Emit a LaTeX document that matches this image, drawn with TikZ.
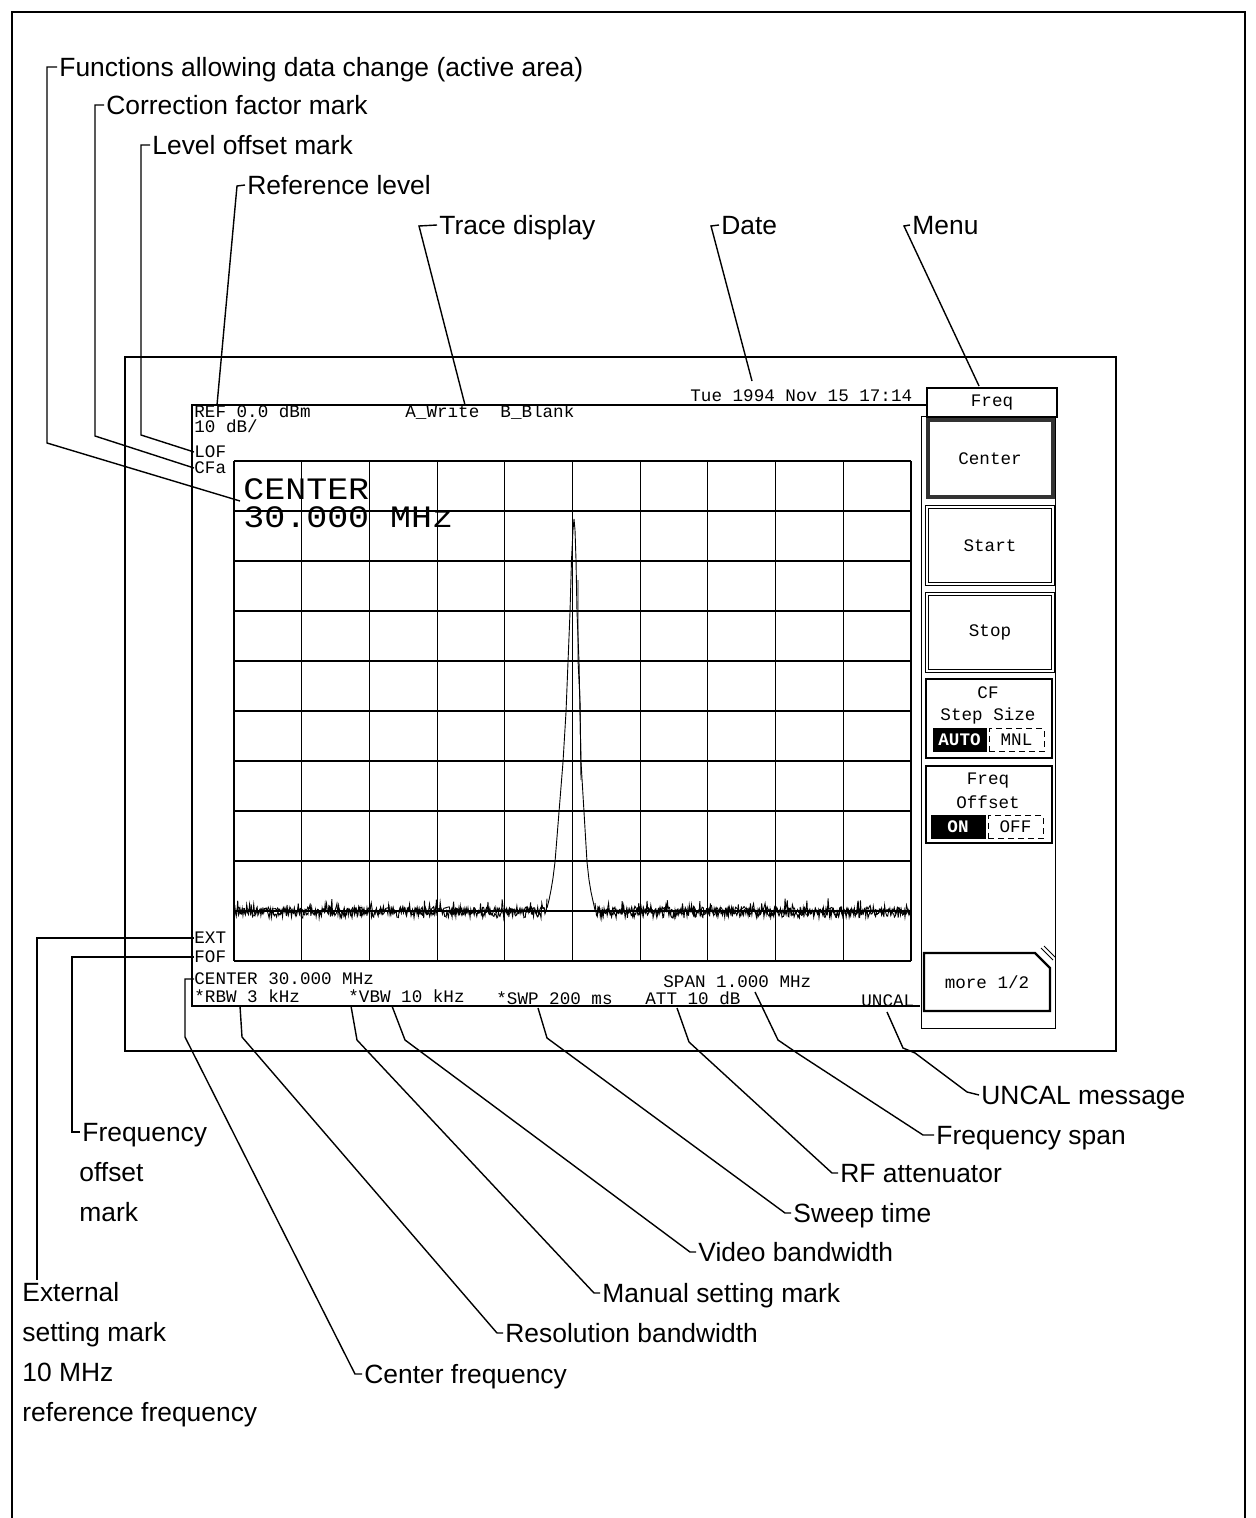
\documentclass[tikz,border=0pt]{standalone}
\usepackage{fontspec}
\setmainfont{Liberation Sans}
\newfontfamily\scrfont{Liberation Mono}
\newfontfamily\bigscrfont[FakeStretch=1.12]{Liberation Mono}
\begin{document}
\begin{tikzpicture}[x=0.5pt,y=-0.5pt,
  lbl/.style={font=\fontsize{13.2}{16}\selectfont,anchor=west,inner xsep=1pt,inner ysep=0pt,text height=9.5pt,text depth=0pt},
  scr/.style={font=\scrfont\fontsize{8.8}{10}\selectfont,anchor=west,inner sep=0pt,text height=5.2pt,text depth=0pt},
  big/.style={font=\bigscrfont\fontsize{15.6}{14}\selectfont,anchor=north west,inner sep=0pt,align=left},
  mtxt/.style={font=\scrfont\fontsize{8.8}{10}\selectfont,inner sep=0pt},
  lead/.style={line width=0.7pt},
  gridln/.style={line width=0.55pt},
  trace/.style={line width=0.45pt},
  frameln/.style={line width=1.1pt},
  btnsel/.style={draw=black!80,line width=2.2pt},
  btndbl/.style={draw=black,double=white,double distance=1.2pt,line width=0.6pt},
  btnthick/.style={draw=black,line width=1.3pt},
  toggleon/.style={fill=black,draw=black,text=white,font=\scrfont\bfseries\fontsize{8.8}{10}\selectfont,inner sep=0pt},
  toggleoff/.style={draw=black,densely dashed,line width=0.4pt,font=\scrfont\fontsize{8.8}{10}\selectfont,inner sep=0pt},
]
\useasboundingbox (0,0) rectangle (1255,1518);

% outer page frame (open at bottom)
\draw[frameln] (12,1518) -- (12,12) -- (1245,12) -- (1245,1518);

% instrument screen frame
\draw[line width=1.2pt] (125,357) rectangle (1116,1051);

% display area lines
\draw[line width=0.7pt] (927,405) -- (192,405) -- (192,1006) -- (920,1006);

% graticule 10 x 10
\foreach \i in {0,...,10} {
  \draw[gridln] ({234+67.7*\i},461) -- ({234+67.7*\i},961);
  \draw[gridln] (234,{461+50*\i}) -- (911,{461+50*\i});
}

% trace
\pgfmathsetseed{42}
\draw[trace] plot[domain=234:547,samples=420] (\x,{913+5*rand-24*max(0,rand-0.6)});
\draw[trace] plot[domain=235:546,samples=300] (\x,{911+4*rand-18*max(0,rand-0.7)});
\draw[trace] plot[domain=595:911,samples=420] (\x,{913+5*rand-24*max(0,rand-0.6)});
\draw[trace] plot[domain=596:910,samples=300] (\x,{911+4*rand-18*max(0,rand-0.7)});
\draw[trace] (547,908) -- (549,900) -- (551,890) -- (553,878) -- (555,862) -- (559,812) -- (563,762)
  -- (566,712) -- (568,662) -- (570,612) -- (571.5,560) -- (573,530) -- (574,519) -- (575,530)
  -- (576,560) -- (577,612) -- (579,662) -- (580,712) -- (581,762) -- (584,812) -- (587,862)
  -- (589,880) -- (591,892) -- (595,910);
\draw[trace] (578,580) -- (578,660) -- (580,700) -- (581,780);

% screen texts
\node[scr] (tREF) at (194,412) {REF 0.0 dBm};
\node[scr] (tDiv) at (194,427) {10 dB/};
\node[scr] (tLOF) at (194,452) {LOF};
\node[scr] (tCFa) at (194,468) {CFa};
\node[scr] (tTrace) at (405,412) {A\_Write\ \ B\_Blank};
\node[scr] (tDate) at (690,396) {Tue 1994 Nov 15 17:14};
\node[big] (tCenterBig) at (243,478) {CENTER\\30.000 MHz};
\node[scr] (tEXT) at (194,938) {EXT};
\node[scr] (tFOF) at (194,957) {FOF};
\node[scr] (tCF) at (194,979) {CENTER 30.000 MHz};
\node[scr] (tRBW) at (194,997) {*RBW 3 kHz};
\node[scr] (tVBW) at (348,997) {*VBW 10 kHz};
\node[scr] (tSWP) at (496,999) {*SWP 200 ms};
\node[scr] (tATT) at (645,999) {ATT 10 dB};
\node[scr] (tSPAN) at (663,982) {SPAN 1.000 MHz};
\node[scr] (tUNCAL) at (861,1001) {UNCAL};

% menu panel
\draw[line width=0.5pt] (921,417) rectangle (1055,1028);
\node[draw,line width=0.7pt,minimum width=65pt,minimum height=14.5pt,inner sep=0pt,mtxt] (mFreq) at (992,402.5) {Freq};
\draw[btnsel] (928,420) rectangle (1053,497);
\node[mtxt] (mCenter) at (990,459) {Center};
\draw[btndbl] (927,507) rectangle (1053,584);
\node[mtxt] (mStart) at (990,546) {Start};
\draw[btndbl] (927,594) rectangle (1053,671);
\node[mtxt] (mStop) at (990,632) {Stop};
\draw[btnthick] (926,679) rectangle (1052,758);
\node[mtxt] (mCF) at (988,693) {CF};
\node[mtxt] (mStep) at (988,716) {Step Size};
\node[toggleon,minimum width=26.5pt,minimum height=11.5pt] (mAuto) at (959.5,740) {AUTO};
\node[toggleoff,minimum width=27.5pt,minimum height=11.5pt] (mMnl) at (1016.5,740) {MNL};
\draw[btnthick] (926,766) rectangle (1052,843);
\node[mtxt] (mFreq2) at (988,781) {Freq};
\node[mtxt] (mOffset) at (988,802) {Offset};
\node[toggleon,minimum width=27pt,minimum height=11.5pt] (mOn) at (958,827) {ON};
\node[toggleoff,minimum width=27.5pt,minimum height=11.5pt] (mOff) at (1015.5,827) {OFF};
\draw[line width=1.2pt] (924,953) -- (1035,953) -- (1050,968) -- (1050,1011) -- (924,1011) -- cycle;
\draw[line width=0.4pt] (1041,948) -- (1053,960) (1044,946) -- (1055,957);
\node[mtxt] (mMore) at (987,982) {more 1/2};

% label texts
\node[lbl] (lFunc) at (57,67) {Functions allowing data change (active area)};
\node[lbl] (lCorr) at (104,105) {Correction factor mark};
\node[lbl] (lLev) at (150,145) {Level offset mark};
\node[lbl] (lRef) at (245,185) {Reference level};
\node[lbl] (lTrace) at (437,225) {Trace display};
\node[lbl] (lDate) at (719,225) {Date};
\node[lbl] (lMenu) at (910,225) {Menu};

\node[lbl] (lExtA) at (20,1292) {External};
\node[lbl] (lExtB) at (20,1332) {setting mark};
\node[lbl] (lExtC) at (20,1372) {10 MHz};
\node[lbl] (lExtD) at (20,1412) {reference frequency};
\node[lbl] (lFOffA) at (80,1132) {Frequency};
\node[lbl] (lFOffB) at (77,1172) {offset};
\node[lbl] (lFOffC) at (77,1212) {mark};
\node[lbl] (lCenF) at (362,1374) {Center frequency};
\node[lbl] (lRes) at (503,1333) {Resolution bandwidth};
\node[lbl] (lMan) at (600,1293) {Manual setting mark};
\node[lbl] (lVid) at (696,1252) {Video bandwidth};
\node[lbl] (lSwp) at (791,1213) {Sweep time};
\node[lbl] (lRF) at (838,1173) {RF attenuator};
\node[lbl] (lSpan) at (934,1135) {Frequency span};
\node[lbl] (lUncal) at (979,1095) {UNCAL message};

% named free ends
\coordinate (cRef) at (217,405);
\coordinate (cTrace) at (465,405);
\coordinate (cDate) at (752,381);
\coordinate (cMenu) at (979,386);
\coordinate (cExt) at (37,1280);
\coordinate (cFunc) at (240,501);
\coordinate (cRes) at (240,1006);
\coordinate (cMan) at (351,1006);
\coordinate (cVid) at (392,1006);
\coordinate (cSwp) at (538,1008);
\coordinate (cRF) at (677,1008);
\coordinate (cSpan) at (755,992);
\coordinate (cUncal) at (887,1012);

% leaders, top
\draw[lead] (cFunc) -- (47,443) -- (47,67) -- (lFunc.west);
\draw[lead] (tCFa.west) -- (95,436) -- (95,105) -- (lCorr.west);
\draw[lead] (tLOF.west) -- (141,435) -- (141,145) -- (lLev.west);
\draw[lead] (cRef) -- (237,186) -- (lRef.west);
\draw[lead] (cTrace) -- (419,226) -- (lTrace.west);
\draw[lead] (cDate) -- (711,226) -- (lDate.west);
\draw[lead] (cMenu) -- (904,226) -- (lMenu.west);

% leaders, bottom
\draw[lead] (tEXT.west) -- (37,938) -- (cExt);
\draw[lead] (tFOF.west) -- (72,957) -- (72,1132) -- (lFOffA.west);
\draw[lead] (tCF.west) -- (185,979) -- (185,1037) -- (355,1374) -- (lCenF.west);
\draw[lead] (cRes) -- (242,1037) -- (497,1333) -- (lRes.west);
\draw[lead] (cMan) -- (357,1040) -- (594,1293) -- (lMan.west);
\draw[lead] (cVid) -- (405,1040) -- (690,1252) -- (lVid.west);
\draw[lead] (cSwp) -- (547,1038) -- (785,1213) -- (lSwp.west);
\draw[lead] (cRF) -- (689,1042) -- (832,1173) -- (lRF.west);
\draw[lead] (cSpan) -- (778,1040) -- (797,1053) -- (923,1135) -- (lSpan.west);
\draw[lead] (cUncal) -- (903,1048) -- (915,1053) -- (967,1092) -- (lUncal.west);
\end{tikzpicture}
\end{document}
